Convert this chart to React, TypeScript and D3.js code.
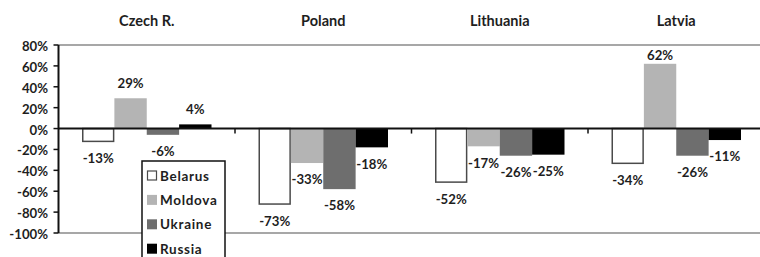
import React from 'react';
import * as d3 from 'd3';

// data
const countries = ['Czech R.', 'Poland', 'Lithuania', 'Latvia'];
const seriesNames = ['Belarus', 'Moldova', 'Ukraine', 'Russia'];
const belarus = [-13, -73, -52, -34];
const moldova = [29, -33, -17, 62];
const ukraine = [-6, -58, -26, -26];
const russia = [4, -18, -25, -11];
const yTicks = [80, 60, 40, 20, 0, -20, -40, -60, -80, -100];

const seriesValues = [belarus, moldova, ukraine, russia];
const fills = ['#ffffff', '#b4b4b4', '#6e6e6e', '#000000'];
const strokes = ['#4a4a4a', 'none', 'none', 'none'];

const W = 760;
const H = 257;
const FONT = 'Lato, "Open Sans", sans-serif';

const App = () => {
  const left = 58.5;
  const y = d3.scaleLinear().domain([-100, 80]).range([233, 45]);
  const x0 = d3.scaleBand<string>().domain(countries).range([left, 764.5]);
  const x1 = d3
    .scaleBand<string>()
    .domain(seriesNames)
    .range([23.5, x0.bandwidth() - 23.5]);
  const zero = y(0);

  const bars = [];
  const labels = [];
  countries.forEach((c, ci) => {
    seriesNames.forEach((s, si) => {
      const v = seriesValues[si][ci];
      const bx = (x0(c) as number) + (x1(s) as number);
      const bw = x1.bandwidth();
      const top = Math.min(y(v), zero);
      const h = Math.abs(y(v) - zero);
      const isWhite = si === 0;
      bars.push(
        <rect
          key={`b-${ci}-${si}`}
          x={isWhite ? bx + 0.75 : bx}
          y={top}
          width={isWhite ? bw - 1.5 : bw}
          height={isWhite ? h - 0.75 : h}
          fill={fills[si]}
          stroke={strokes[si]}
          strokeWidth={1.5}
        />
      );
      let cy = v >= 0 ? y(v) - 15 : y(v) + 16.5;
      cy = Math.max(cy, y(80) + 10);
      labels.push(
        <text
          key={`l-${ci}-${si}`}
          x={bx + bw / 2}
          y={cy + 4.8}
          textAnchor="middle"
          fontSize={13.2}
          fontWeight="bold"
          fill="#1e1e1e"
        >
          {`${v}%`}
        </text>
      );
    });
  });

  return (
    <svg
      width={W}
      height={H}
      style={{ position: 'absolute', left: 0, top: 0, background: '#fff' }}
      fontFamily={FONT}
    >
      {/* category titles */}
      {countries.map((c) => (
        <text
          key={c}
          x={(x0(c) as number) + x0.bandwidth() / 2}
          y={25.5}
          textAnchor="middle"
          fontSize={14.5}
          fontWeight="bold"
          fill="#1e1e1e"
        >
          {c}
        </text>
      ))}

      {/* plot frame lines */}
      <line x1={left} x2={W} y1={y(80)} y2={y(80)} stroke="#8a8a8a" strokeWidth={1.5} />
      <line x1={left} x2={W} y1={y(-100)} y2={y(-100)} stroke="#8a8a8a" strokeWidth={1.5} />

      {bars}

      {/* zero line and category ticks */}
      <line x1={left} x2={W} y1={zero} y2={zero} stroke="#111" strokeWidth={2} />
      {countries.slice(1).map((c) => (
        <line
          key={`t-${c}`}
          x1={x0(c) as number}
          x2={x0(c) as number}
          y1={zero}
          y2={zero + 5}
          stroke="#111"
          strokeWidth={1.5}
        />
      ))}

      {/* y axis */}
      <line x1={left} x2={left} y1={y(80)} y2={y(-100)} stroke="#111" strokeWidth={2} />
      {yTicks.map((t) => (
        <g key={`y-${t}`}>
          <line x1={left - 5} x2={left} y1={y(t)} y2={y(t)} stroke="#111" strokeWidth={1.5} />
          <text
            x={48}
            y={y(t) + 6}
            textAnchor="end"
            fontSize={13.2}
            fontWeight="bold"
            fill="#1e1e1e"
          >
            {`${t}%`}
          </text>
        </g>
      ))}

      {labels}

      {/* legend */}
      <rect x={142} y={161} width={83} height={110} fill="#fff" stroke="#111" strokeWidth={1.5} />
      {seriesNames.map((s, i) => {
        const cy = 175.5 + i * 24.4;
        return (
          <g key={`lg-${s}`}>
            <rect
              x={i === 0 ? 147.5 : 147}
              y={i === 0 ? cy - 4.5 : cy - 5}
              width={i === 0 ? 9 : 10}
              height={i === 0 ? 9 : 10}
              fill={fills[i]}
              stroke={strokes[i]}
              strokeWidth={1.2}
            />
            <text
              x={160}
              y={cy + 5}
              fontSize={13.5}
              fontWeight="bold"
              letterSpacing={0.7}
              fill="#1e1e1e"
            >
              {s}
            </text>
          </g>
        );
      })}
    </svg>
  );
};

export default App;
